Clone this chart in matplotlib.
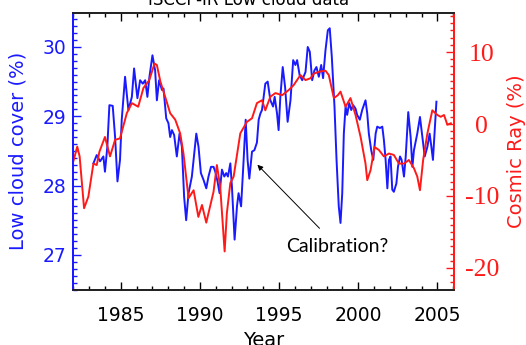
import matplotlib
matplotlib.use("Agg")
import matplotlib.pyplot as plt
from matplotlib.ticker import MultipleLocator, FixedLocator

plt.rcParams['axes.unicode_minus'] = False
plt.rcParams['font.family'] = ['DejaVu Sans']

# ---- data ----
cloud_year = [1983.27, 1983.48, 1983.69, 1983.9, 1984.0, 1984.15, 1984.28, 1984.49, 1984.64, 1984.79,
              1984.95, 1985.06, 1985.27, 1985.48, 1985.7, 1985.84, 1986.05, 1986.22, 1986.39, 1986.54,
              1986.68, 1986.81, 1987.0, 1987.17, 1987.28, 1987.42, 1987.6, 1987.7, 1987.87, 1988.01,
              1988.12, 1988.23, 1988.37, 1988.54, 1988.71, 1988.86, 1989.0, 1989.13, 1989.28, 1989.49,
              1989.77, 1989.91, 1990.06, 1990.23, 1990.4, 1990.54, 1990.7, 1990.86, 1990.97, 1991.11,
              1991.24, 1991.39, 1991.54, 1991.66, 1991.77, 1991.92, 1992.02, 1992.19, 1992.34, 1992.44,
              1992.6, 1992.76, 1992.89, 1993.01, 1993.12, 1993.29, 1993.44, 1993.6, 1993.71, 1993.82,
              1993.92, 1994.13, 1994.28, 1994.45, 1994.62, 1994.72, 1994.87, 1994.97, 1995.08, 1995.23,
              1995.38, 1995.54, 1995.72, 1995.89, 1996.03, 1996.14, 1996.3, 1996.46, 1996.67, 1996.81,
              1996.94, 1997.09, 1997.23, 1997.36, 1997.51, 1997.66, 1997.78, 1997.93, 1998.08, 1998.2,
              1998.33, 1998.5, 1998.63, 1998.77, 1998.88, 1998.99, 1999.09, 1999.2, 1999.3, 1999.43,
              1999.56, 1999.68, 1999.83, 1999.93, 2000.1, 2000.25, 2000.46, 2000.57, 2000.67, 2000.82,
              2000.95, 2001.1, 2001.2, 2001.37, 2001.52, 2001.62, 2001.73, 2001.84, 2001.94, 2002.04,
              2002.15, 2002.25, 2002.41, 2002.51, 2002.64, 2002.74, 2002.89, 2003.0, 2003.16, 2003.31,
              2003.42, 2003.52, 2003.73, 2003.9, 2004.05, 2004.2, 2004.37, 2004.51, 2004.62, 2004.72,
              2004.83, 2004.94]
cloud_pct = [28.32, 28.44, 28.35, 28.42, 28.2, 28.56, 29.16, 29.15, 28.7, 28.06,
             28.37, 28.95, 29.57, 29.09, 29.28, 29.69, 29.26, 29.52, 29.47, 29.52,
             29.28, 29.57, 29.88, 29.66, 29.23, 29.52, 29.38, 29.4, 28.97, 28.9,
             28.7, 28.8, 28.73, 28.42, 28.75, 28.56, 27.84, 27.5, 27.89, 28.13,
             28.75, 28.56, 28.18, 28.08, 27.96, 28.13, 28.27, 28.27, 28.2, 28.06,
             27.89, 28.23, 28.13, 28.18, 28.13, 28.32, 27.99, 27.22, 27.7, 27.89,
             27.7, 28.37, 28.95, 28.37, 28.1, 28.49, 28.51, 28.62, 28.95, 29.04,
             29.09, 29.47, 29.5, 29.23, 29.14, 29.28, 29.04, 28.8, 29.28, 29.71,
             29.42, 28.92, 29.23, 29.81, 29.74, 29.81, 29.59, 29.52, 29.64, 30.0,
             29.93, 29.52, 29.66, 29.71, 29.57, 29.74, 29.55, 29.95, 30.24, 30.27,
             29.86, 29.14, 28.37, 27.7, 27.46, 27.89, 28.75, 29.14, 29.02, 29.19,
             29.09, 29.16, 29.11, 29.02, 28.95, 29.09, 29.23, 29.04, 28.75, 28.51,
             28.37, 28.75, 28.85, 28.83, 28.85, 28.66, 28.37, 27.96, 28.37, 28.42,
             27.94, 27.91, 28.03, 28.27, 28.42, 28.37, 28.13, 28.42, 29.06, 28.7,
             28.27, 28.51, 28.75, 28.99, 28.7, 28.42, 28.56, 28.75, 28.56, 28.37,
             28.8, 29.21]

cr_year = [1982.0, 1982.25, 1982.4, 1982.68, 1982.95, 1983.27, 1983.48, 1983.65, 1984.0, 1984.32,
           1984.64, 1984.95, 1985.38, 1985.7, 1986.1, 1986.43, 1986.8, 1987.13, 1987.28, 1987.5,
           1987.8, 1988.12, 1988.44, 1988.75, 1988.96, 1989.28, 1989.6, 1989.9, 1990.13, 1990.4,
           1990.86, 1991.07, 1991.28, 1991.56, 1991.7, 1991.92, 1992.13, 1992.55, 1992.97, 1993.29,
           1993.6, 1993.92, 1994.13, 1994.45, 1994.77, 1995.19, 1995.6, 1995.92, 1996.35, 1996.67,
           1996.98, 1997.19, 1997.6, 1997.93, 1998.14, 1998.46, 1998.71, 1998.88, 1999.2, 1999.51,
           1999.83, 2000.15, 2000.46, 2000.57, 2000.78, 2001.03, 2001.3, 2001.62, 2001.94, 2002.25,
           2002.57, 2002.89, 2003.2, 2003.52, 2003.73, 2003.9, 2004.1, 2004.37, 2004.68, 2005.0,
           2005.21, 2005.42, 2005.63, 2005.85]
cr_pct = [-5.2, -3.15, -4.5, -11.7, -10.1, -5.5, -5.7, -3.85, -1.8, -4.5,
          -2.2, -2.0, 1.5, 2.9, 2.4, 5.0, 6.1, 8.4, 8.2, 5.9,
          3.8, 1.5, 0.6, -1.3, -4.1, -10.3, -9.2, -12.9, -11.25, -13.7,
          -9.4, -5.7, -8.7, -17.7, -12.4, -8.2, -7.3, -1.3, 0.3, 0.8,
          2.9, 3.3, 1.9, 3.8, 4.3, 4.0, 4.7, 5.4, 6.8, 6.1,
          6.35, 7.0, 7.3, 7.4, 6.8, 3.6, 4.0, 4.5, 2.4, 3.6,
          1.25, -1.8, -5.5, -7.8, -6.4, -3.2, -3.6, -4.5, -4.1, -4.3,
          -5.5, -5.5, -5.0, -6.15, -7.3, -9.2, -5.0, -1.3, 1.9, 1.25,
          1.0, 1.25, -0.1, 0.1]

year_ticks = [1985, 1990, 1995, 2000, 2005]
cloud_ticks = [27, 28, 29, 30]
cr_ticks = [-20, -10, 0, 10]

BLUE = '#1a1aff'
RED = '#ff1a1a'

fig = plt.figure(figsize=(5.26, 3.45), dpi=100)
ax = fig.add_axes([73.3 / 526, 1 - 289.5 / 345, (454 - 73.3) / 526, (289.5 - 13) / 345])
ax2 = ax.twinx()

ax.plot(cloud_year, cloud_pct, color=BLUE, lw=1.4)
ax2.plot(cr_year, cr_pct, color=RED, lw=1.4)

ax.set_xlim(1982.0, 2006.05)
ax.set_ylim(26.5, 30.49)
ax2.set_ylim(-22.99, 15.42)

# x axis
ax.set_xticks(year_ticks)
ax.xaxis.set_minor_locator(MultipleLocator(1))
ax.tick_params(axis='x', which='both', direction='in', top=True, bottom=True,
               colors='black', labelsize=13.5, pad=12, width=1.0)
ax.tick_params(axis='x', which='major', length=5.5)
ax.tick_params(axis='x', which='minor', length=3)

# left axis
ax.set_yticks(cloud_ticks)
ax.yaxis.set_minor_locator(MultipleLocator(0.1))
ax.tick_params(axis='y', which='both', direction='in', colors=BLUE, labelsize=13.5,
               pad=5, width=1.0, right=False)
ax.tick_params(axis='y', which='major', length=6)
ax.tick_params(axis='y', which='minor', length=3)

# right axis
ax2.set_yticks(cr_ticks)
ax2.yaxis.set_minor_locator(MultipleLocator(1))
ax2.tick_params(axis='y', which='both', direction='in', colors=RED, pad=20, width=1.0,
                left=False)
ax2.tick_params(axis='y', which='major', length=6)
ax2.tick_params(axis='y', which='minor', length=3)
for lbl in ax2.get_yticklabels():
    lbl.set_fontfamily('Liberation Serif')
    lbl.set_fontsize(18.5)
    lbl.set_ha('center')

for a in (ax, ax2):
    a.spines['left'].set_color(BLUE)
    a.spines['right'].set_color(RED)
    a.spines['top'].set_color('#222222')
    a.spines['bottom'].set_color('#222222')
    for s in a.spines.values():
        s.set_linewidth(1.3)

ax.set_ylabel('Low cloud cover (%)', color=BLUE, fontsize=14)
ax.yaxis.set_label_coords(-0.119, 0.5)
ax2.set_ylabel('Cosmic Ray (%)', color=RED, fontsize=14)
ax2.yaxis.set_label_coords(1.139, 0.5)
ax.set_xlabel('Year', fontsize=14)
ax.xaxis.set_label_coords(0.5, -0.150)

fig.text(0.473, 1 - 5 / 345, 'ISCCP-IR Low cloud data', ha='center', va='baseline',
         fontsize=12, color='black')

ax2.annotate('Calibration?', xy=(1993.63, 28.30), xycoords=ax.transData,
             xytext=(1998.68, 27.12), textcoords=ax.transData,
             ha='center', va='center', fontsize=14, family='Lato', color='black',
             arrowprops=dict(arrowstyle='-|>', color='black', lw=0.7,
                             mutation_scale=8, shrinkA=7, shrinkB=0))

fig.savefig('out.png', dpi=100)
